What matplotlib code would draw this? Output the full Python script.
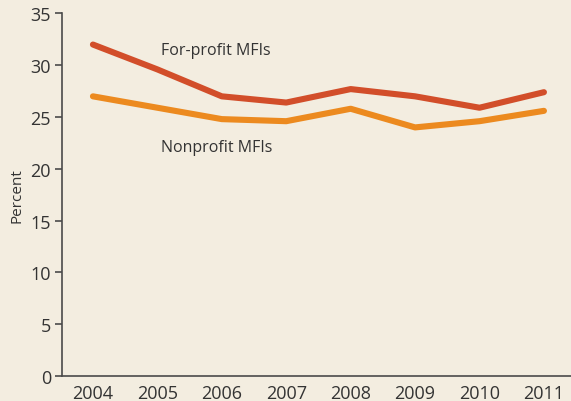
import matplotlib.pyplot as plt

# data
years = [2004, 2005, 2006, 2007, 2008, 2009, 2010, 2011]
for_profit = [32.0, 29.6, 27.0, 26.4, 27.7, 27.0, 25.9, 27.4]
nonprofit = [27.0, 25.9, 24.8, 24.6, 25.8, 24.0, 24.6, 25.6]
yticks = [0, 5, 10, 15, 20, 25, 30, 35]

bg = '#f3ede0'
red = '#d24e2a'
orange = '#ec8a1f'
ink = '#333333'

plt.rcParams['font.family'] = ['Open Sans', 'DejaVu Sans']

fig = plt.figure(figsize=(5.71, 4.02), dpi=100, facecolor=bg)
ax = fig.add_axes([0.1086, 0.0622, 0.8914, 0.9018])
ax.set_facecolor(bg)

ax.plot(years, for_profit, color=red, lw=4.4, solid_capstyle='round', solid_joinstyle='round')
ax.plot(years, nonprofit, color=orange, lw=4.4, solid_capstyle='round', solid_joinstyle='round')

ax.set_xlim(2003.52, 2011.42)
ax.set_ylim(0, 35)
ax.set_xticks(years)
ax.set_yticks(yticks)

for s in ['top', 'right']:
    ax.spines[s].set_visible(False)
for s in ['left', 'bottom']:
    ax.spines[s].set_color('#4a4a4a')
    ax.spines[s].set_linewidth(1.2)

ax.tick_params(axis='y', direction='out', length=5, width=1.2, color='#4a4a4a',
               labelsize=13, labelcolor=ink, pad=3)
ax.tick_params(axis='x', length=0, labelsize=13, labelcolor=ink, pad=6)

ax.set_ylabel('Percent', fontsize=11, color=ink, labelpad=4.5)

ax.text(2005.06, 31.5, 'For-profit MFIs', fontsize=11.5, color=ink, va='center')
ax.text(2005.06, 22.1, 'Nonprofit MFIs', fontsize=11.5, color=ink, va='center')

fig.savefig('out.png', dpi=100, facecolor=bg)
